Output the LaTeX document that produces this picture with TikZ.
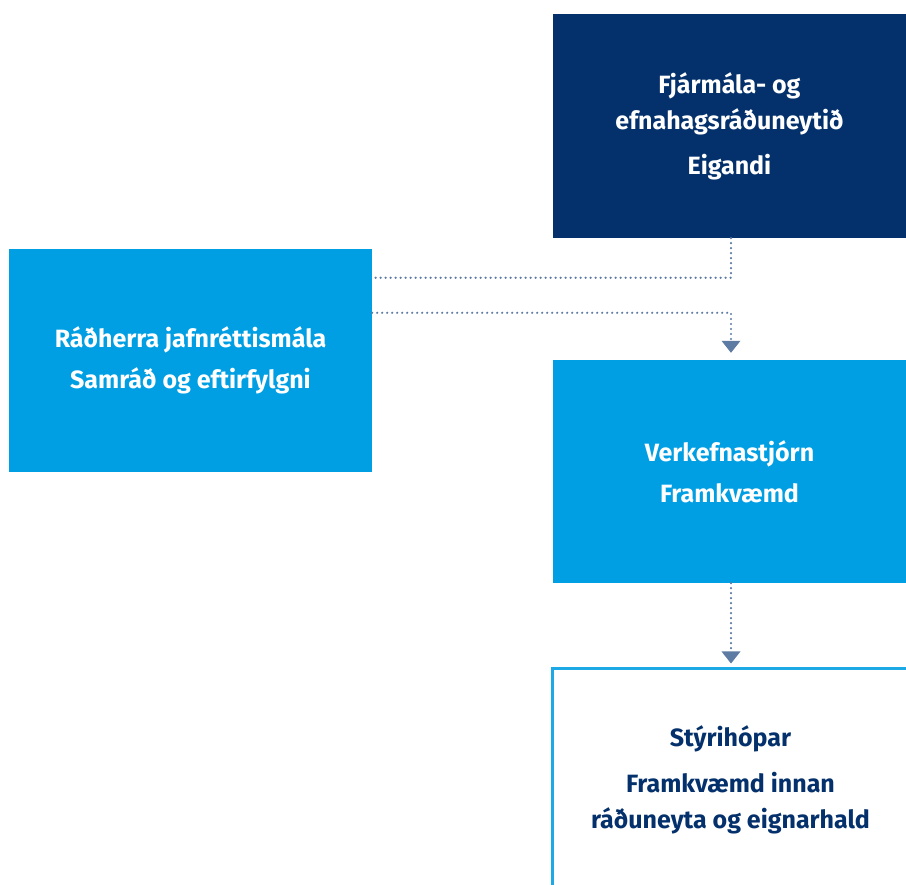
\documentclass[tikz,border=0pt]{standalone}
\usepackage{fontspec}
\setmainfont{Fira Sans}
\usetikzlibrary{arrows.meta}
\definecolor{navy}{HTML}{04316B}
\definecolor{skyblue}{HTML}{009FE3}
\definecolor{rimblue}{HTML}{1DA8E6}
\definecolor{dotgray}{HTML}{5E7BA3}
\tikzset{
  box/.style={minimum width=353pt, minimum height=223pt, inner sep=0pt, align=center, font=\fontsize{25}{36}\selectfont\bfseries},
  darkbox/.style={box, fill=navy, text=white},
  lightbox/.style={box, fill=skyblue, text=white},
  rimbox/.style={box, draw=rimblue, line width=3pt, fill=white, text=navy},
  dotline/.style={draw=dotgray, line width=2.4pt, line cap=round, dash pattern=on 0pt off 5pt},
  tip/.style={-{Triangle[width=19pt,length=12pt,fill=dotgray,line width=0pt]}}
}
\begin{document}
\begin{tikzpicture}[x=1pt,y=1pt]
\useasboundingbox (0,0) rectangle (906,885);
\clip (0,0) rectangle (906,885);
\node[darkbox, minimum height=224pt](fjr) at (729.5, 759) {Fjármála- og\\efnahagsráðuneytið\\[9pt]Eigandi};
\node[lightbox, minimum width=363pt](radh) at (190.5, 524.5) {Ráðherra jafnréttismála\\[5pt]Samráð og eftirfylgni};
\node[lightbox](verk) at (729.5, 413.5) {Verkefnastjórn\\[5pt]Framkvæmd};
\node[rimbox, minimum width=356pt, minimum height=222pt](styri) at (730.5, 105.5) {Stýrihópar\\[10pt]Framkvæmd innan\\ráðuneyta og eignarhald};
\draw[dotline] ([xshift=1.5pt]fjr.south) |- ([yshift=-29pt]radh.north east);
\draw[dotline, tip] ([yshift=-64pt]radh.north east) -| ([xshift=1.5pt, yshift=7pt]verk.north);
\draw[dotline, tip] ([xshift=1.5pt]verk.south) -- ([xshift=0.5pt, yshift=3.5pt]styri.north);
\end{tikzpicture}
\end{document}
